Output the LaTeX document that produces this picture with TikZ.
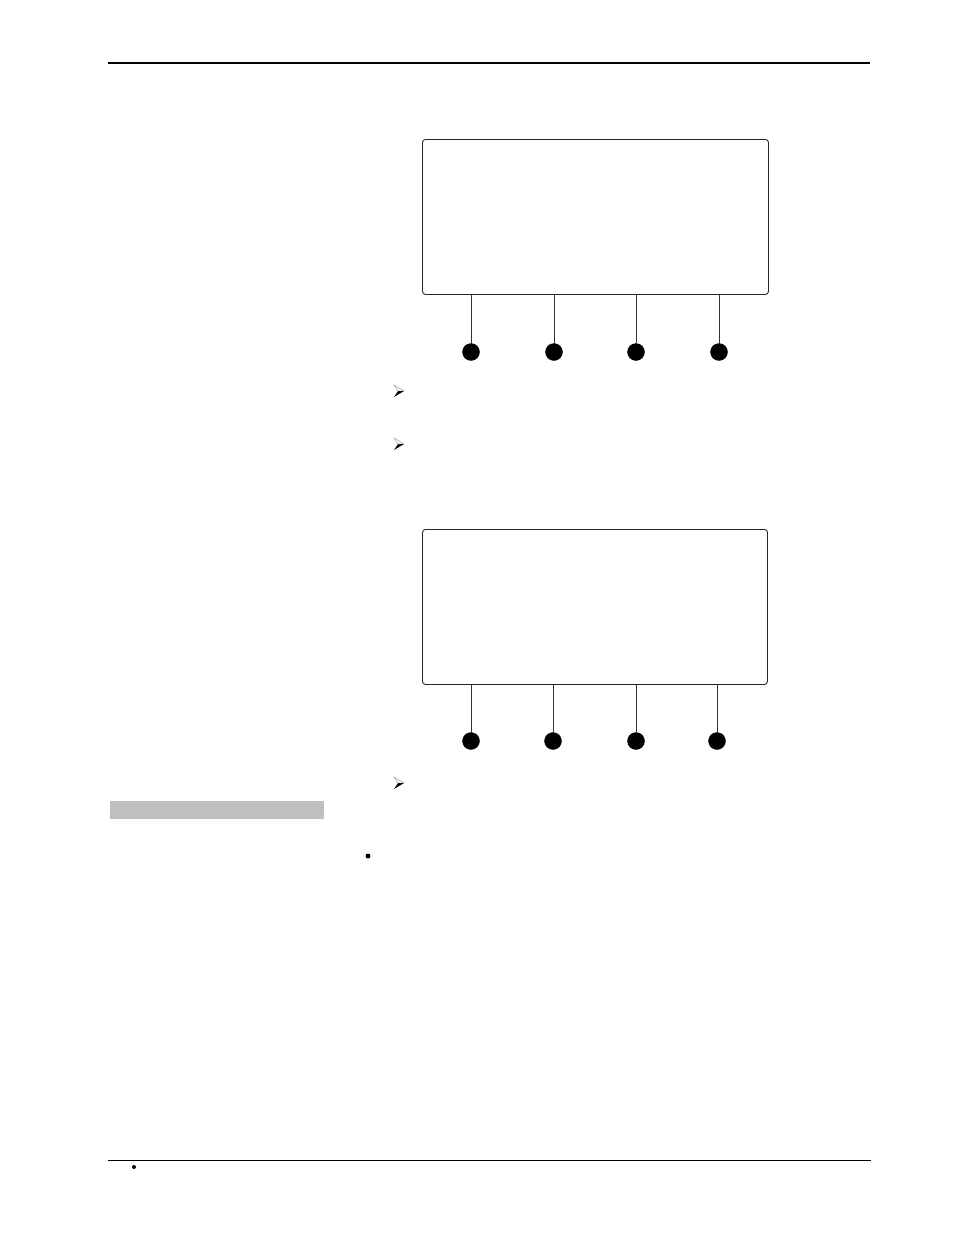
\documentclass[tikz,border=0pt]{standalone}
\begin{document}
\begin{tikzpicture}[x=1pt,y=-1pt,
  panel/.style={draw=black!85,line width=0.9pt,rounded corners=3pt,minimum width=346pt,minimum height=155pt,inner sep=0pt,anchor=north west},
  knob/.style={circle,fill=black,draw=black,minimum size=17pt,inner sep=0pt},
  stem/.style={draw=black!80,line width=0.8pt},
  rule/.style={line width=2pt},
  thinrule/.style={line width=0.9pt}]
\useasboundingbox (0,0) rectangle (954,1235);
% header and footer rules
\coordinate (hl) at (108,63); \coordinate (hr) at (870,63);
\draw[rule] (hl) -- (hr);
\coordinate (fl) at (108,1160); \coordinate (fr) at (871,1160);
\draw[thinrule] (fl) -- (fr);
\node[circle,fill=black,inner sep=0pt,minimum size=4pt] (fdot) at (134,1167) {};
% panel 1
\node[panel] (p1) at (422,139) {};
\foreach \x/\n in {471/a,554/b,636/c,719/d}{
  \node[knob] (k1\n) at (\x,352) {};
  \draw[stem] (k1\n.north) -- (k1\n |- p1.south);
}
% panel 2
\node[panel,minimum width=345pt] (p2) at (422,529) {};
\foreach \x/\n in {471/a,553/b,636/c,717/d}{
  \node[knob] (k2\n) at (\x,741) {};
  \draw[stem] (k2\n.north) -- (k2\n |- p2.south);
}
% arrowhead bullets
\foreach \y in {391,444,783}{
  \fill[black] (394,\y+6) -- (404,\y) -- (398,\y) -- cycle;
  \draw[black!45,line width=0.4pt] (394,\y-6) -- (404,\y) -- (398,\y) -- cycle;
}
% gray bar
\fill[black!25] (110,801) rectangle (324,819);
% bullet dot
\node[circle,fill=black,inner sep=0pt,minimum size=5pt] (bdot) at (368,856) {};
\end{tikzpicture}
\end{document}
